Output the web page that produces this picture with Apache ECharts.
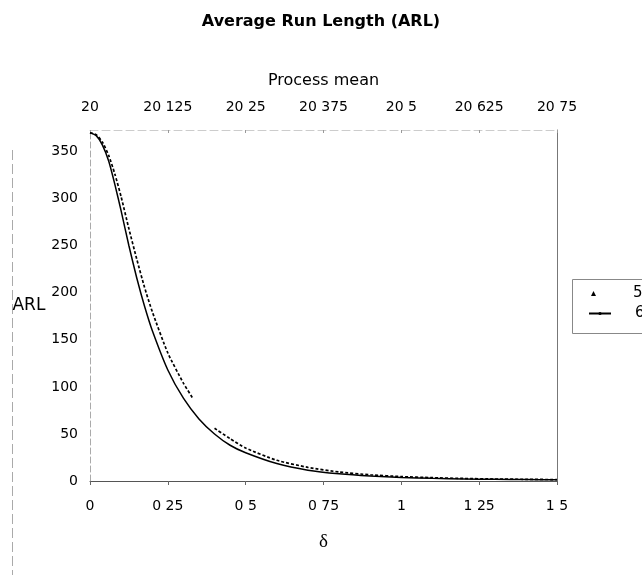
<!DOCTYPE html>
<html>
<head>
<meta charset="utf-8">
<script src="https://cdn.jsdelivr.net/npm/echarts@6/dist/echarts.min.js"></script>
<style>
html,body{margin:0;padding:0;background:#fff;}
#chart{width:642px;height:575px;}
</style>
</head>
<body>
<div id="chart"></div>
<script>
// ---- data ----
var deltaTickLabels = ['0', '0 25', '0 5', '0 75', '1', '1 25', '1 5'];
var meanTickLabels = ['20', '20 125', '20 25', '20 375', '20 5', '20 625', '20 75'];
var yTickLabels = ['0', '50', '100', '150', '200', '250', '300', '350'];

// series "6" (solid line)
var delta6 = [0, 0.02, 0.04, 0.06, 0.08, 0.1, 0.125, 0.15, 0.175, 0.2, 0.25, 0.3, 0.35, 0.4, 0.45, 0.5, 0.6, 0.7, 0.8, 0.9, 1.0, 1.1, 1.2, 1.3, 1.4, 1.5];
var arl6   = [370, 367, 357, 340, 315, 287, 250, 216, 186, 160, 118, 88, 66, 50, 38, 30, 18.5, 11.5, 7.6, 5.2, 3.7, 2.8, 2.2, 1.8, 1.5, 1.3];

// series "5" (dotted, two pieces with a gap)
var delta5 = [0, 0.02, 0.04, 0.06, 0.08, 0.1, 0.125, 0.15, 0.175, 0.2, 0.25, 0.3, 0.33, null, 0.4, 0.45, 0.5, 0.6, 0.7, 0.8, 0.9, 1.0, 1.1, 1.2, 1.3, 1.4, 1.5];
var arl5   = [370, 368, 360, 346, 326, 302, 268, 236, 206, 180, 136, 104, 88, null, 56, 45, 35, 22, 14.5, 9.6, 6.6, 4.7, 3.5, 2.7, 2.1, 1.8, 1.5];

function pairs(xs, ys) {
  return xs.map(function (x, i) { return (x === null) ? [null, null] : [x, ys[i]]; });
}

var chart = echarts.init(document.getElementById('chart'));
var font = 'DejaVu Sans, Liberation Sans, Arial, sans-serif';

chart.setOption({
  animation: false,
  backgroundColor: '#fff',
  title: {
    text: 'Average Run Length (ARL)',
    left: 'center',
    top: 9,
    textStyle: { fontFamily: font, fontSize: 16, fontWeight: 'bold', color: '#000' }
  },
  grid: {
    left: 90, right: 85, top: 130, bottom: 94,
    show: false
  },
  xAxis: [
    {
      type: 'value', position: 'bottom', min: 0, max: 1.5, interval: 0.25,
      name: 'δ', nameLocation: 'middle', nameGap: 52,
      nameTextStyle: { fontFamily: 'Liberation Serif, DejaVu Serif, serif', fontSize: 19, color: '#000' },
      axisLine: { show: true, onZero: false, lineStyle: { color: '#555', width: 1 } },
      axisTick: { show: true, inside: false, length: 4, lineStyle: { color: '#666' } },
      axisLabel: {
        margin: 18, fontFamily: font, fontSize: 14, color: '#000',
        formatter: function (v) { return deltaTickLabels[Math.round(v / 0.25)]; }
      },
      splitLine: { show: false }
    },
    {
      type: 'value', position: 'top', min: 20, max: 20.75, interval: 0.125,
      name: 'Process mean', nameLocation: 'middle', nameGap: 41,
      nameTextStyle: { fontFamily: font, fontSize: 16, color: '#000' },
      axisLine: { show: true, onZero: false, lineStyle: { color: '#ccc', width: 1, type: [8, 4] } },
      axisTick: { show: true, inside: true, length: 3, lineStyle: { color: '#999' } },
      axisLabel: {
        margin: 16, fontFamily: font, fontSize: 14, color: '#000',
        formatter: function (v) { return meanTickLabels[Math.round((v - 20) / 0.125)]; }
      },
      splitLine: { show: false }
    }
  ],
  yAxis: [
    {
      type: 'value', min: 0, max: 373, interval: 50, position: 'left',
      name: 'ARL', nameLocation: 'middle', nameRotate: 0, nameGap: 38,
      nameTextStyle: { fontFamily: font, fontSize: 17, color: '#000', padding: [26, 0, 0, 0] },
      axisLine: { show: true, onZero: false, lineStyle: { color: '#aaa', width: 1, type: [6, 3] } },
      axisTick: { show: false },
      axisLabel: {
        margin: 12, fontFamily: font, fontSize: 14, color: '#000', showMaxLabel: false,
        formatter: function (v) { var i = Math.round(v / 50); return (v % 50 === 0) ? yTickLabels[i] : ''; }
      },
      splitLine: { show: false }
    },
    {
      type: 'value', min: 0, max: 373, interval: 50, position: 'right',
      axisLine: { show: true, onZero: false, lineStyle: { color: '#777', width: 1 } },
      axisTick: { show: false }, axisLabel: { show: false }, splitLine: { show: false }
    }
  ],
  legend: [
    {
      data: [{ name: '5', icon: 'triangle' }],
      left: 591, top: 286, padding: 0,
      itemWidth: 5, itemHeight: 5,
      textStyle: { fontFamily: font, fontSize: 15, color: '#000', padding: [0, 0, 0, 32] }
    },
    {
      data: ['6'],
      left: 588, top: 306, padding: 0,
      itemWidth: 22, itemHeight: 4,
      textStyle: { fontFamily: font, fontSize: 15, color: '#000', padding: [0, 0, 0, 19] }
    }
  ],
  graphic: [
    { type: 'rect', shape: { x: 572.5, y: 279.5, width: 90, height: 54 }, style: { fill: 'none', stroke: '#888', lineWidth: 1 }, z: -1 },
    { type: 'line', shape: { x1: 12.5, y1: 150, x2: 12.5, y2: 575 }, style: { stroke: '#aaa', lineWidth: 1, lineDash: [10, 4] } }
  ],
  series: [
    {
      name: '5', type: 'line', xAxisIndex: 0, yAxisIndex: 0,
      data: pairs(delta5, arl5), connectNulls: false, smooth: 0.2,
      symbol: 'triangle', symbolSize: 3, showSymbol: false,
      itemStyle: { color: '#000' },
      lineStyle: { color: '#000', width: 1.7, type: [3, 2] },
      z: 3
    },
    {
      name: '6', type: 'line', xAxisIndex: 0, yAxisIndex: 0,
      data: pairs(delta6, arl6), smooth: 0.2,
      symbol: 'circle', symbolSize: 3, showSymbol: false,
      itemStyle: { color: '#000' },
      lineStyle: { color: '#000', width: 1.5 },
      z: 4
    }
  ]
});
</script>
</body>
</html>
